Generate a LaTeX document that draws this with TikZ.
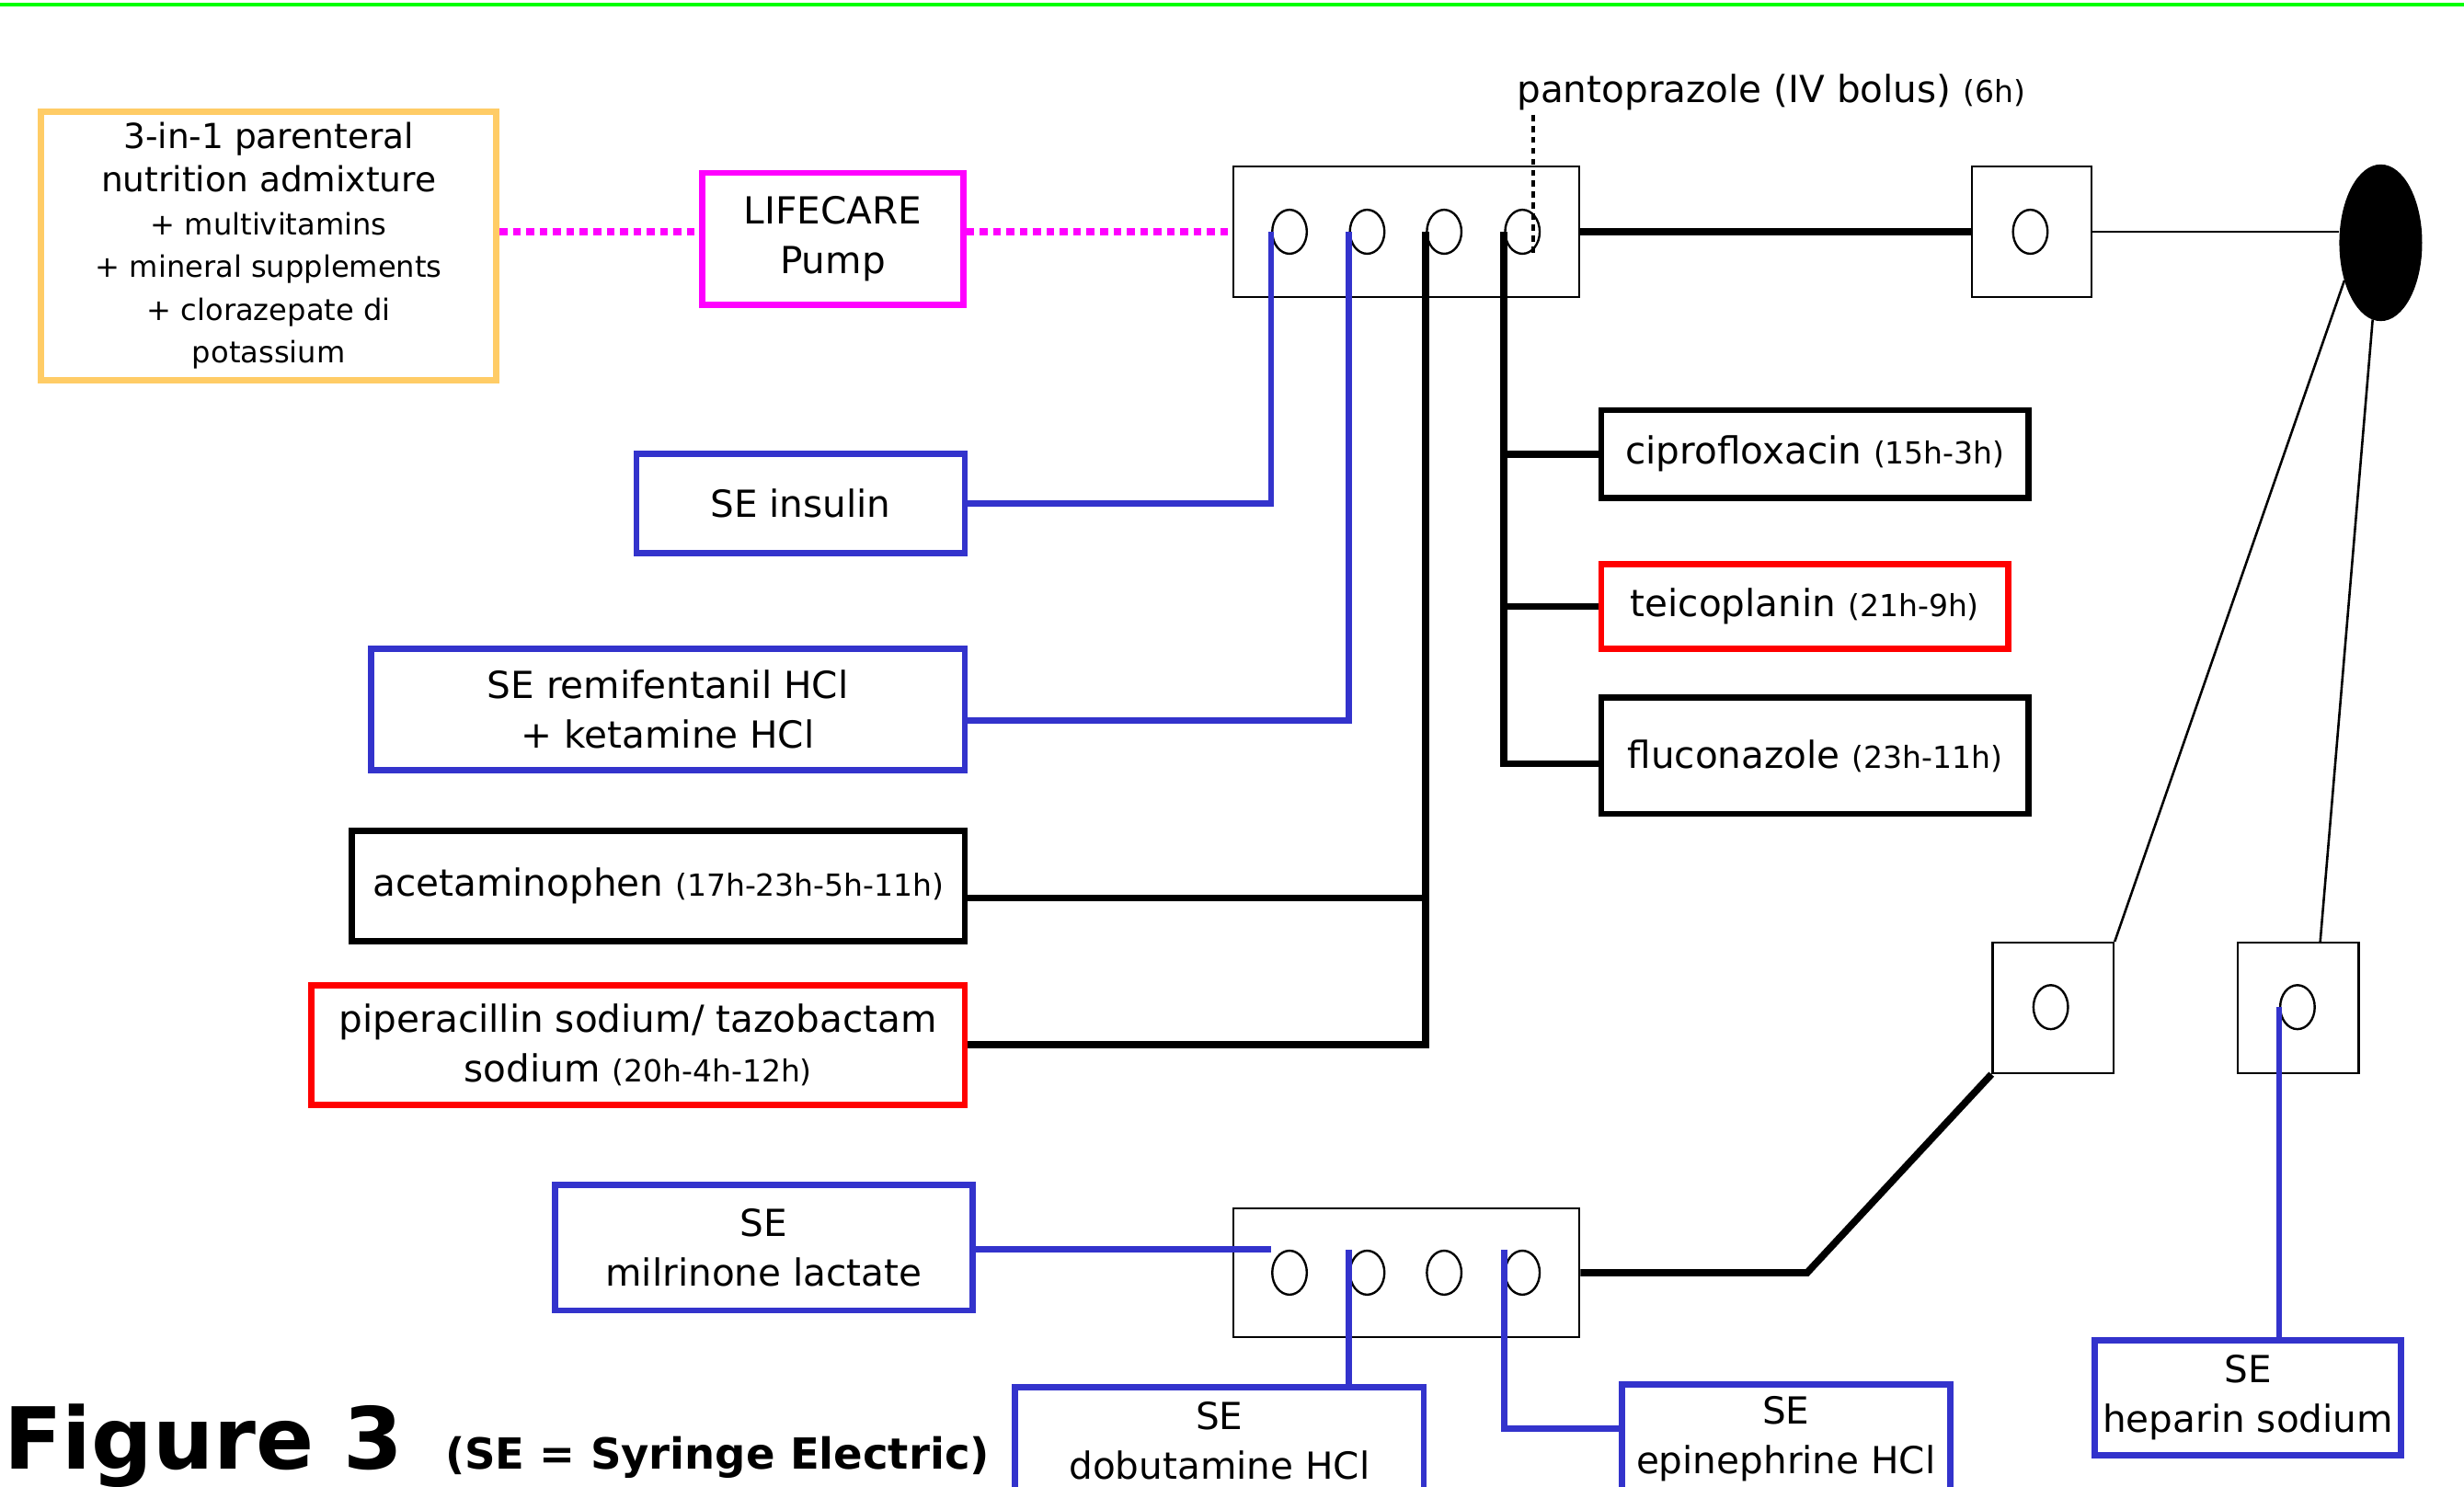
\documentclass[tikz,border=0pt]{standalone}
\usepackage{fontspec}
\setmainfont{DejaVu Sans}
\usepackage{tikz}
\usetikzlibrary{shapes.geometric}

\definecolor{seblue}{RGB}{51,51,204}
\definecolor{tpnorange}{RGB}{255,204,102}
\definecolor{pumppink}{RGB}{255,0,255}
\definecolor{rulegreen}{RGB}{0,255,0}

\newcommand{\drugfont}{\fontsize{13.5}{18}\selectfont}
\newcommand{\hourfont}{\fontsize{11}{14}\selectfont}
\newcommand{\tpnfont}{\fontsize{10.7}{15.5}\selectfont}
\newcommand{\tpnbig}{\fontsize{12.5}{16}\selectfont}

\begin{document}
\begin{tikzpicture}[
  x=0.2mm, y=-0.2mm,
  drug/.style={draw, line width=0.8mm, align=center, font=\drugfont, inner sep=0pt},
  sebox/.style={drug, draw=seblue},
  redbox/.style={drug, draw=red},
  hub/.style={draw, line width=0.28mm, minimum width=44mm, minimum height=16.6mm},
  portbox/.style={draw, line width=0.28mm, minimum width=15.4mm, minimum height=16.6mm},
  port/.style={draw, ellipse, line width=0.28mm, minimum width=4.4mm,
               minimum height=5.6mm, inner sep=0pt},
  feed/.style={line width=0.9mm},
  seline/.style={line width=0.8mm, seblue},
  pumpline/.style={line width=0.85mm, pumppink, dash pattern=on 1mm off 0.7mm},
  dripline/.style={line width=0.3mm}
]
\useasboundingbox (0,0) rectangle (1568,946);
\fill[white] (0,0) rectangle (1568,946);
\draw[rulegreen, line width=0.4mm] (0,3) -- (1568,3);

% nutrition line
\node[drug, draw=tpnorange, minimum width=58mm, minimum height=34.2mm, font=\tpnfont]
  (tpn) at (171,156.5) {\tpnbig 3-in-1 parenteral\\ \tpnbig nutrition admixture\\
  + multivitamins\\ + mineral supplements\\ + clorazepate di\\ potassium};
\node[drug, draw=pumppink, minimum width=33.2mm, minimum height=16.8mm] (pump) at (530,152) {LIFECARE\\Pump};

% upper manifold
\node[hub] (tman) at (895,147.5) {};
\foreach \i/\x in {1/820.6, 2/870, 3/919, 4/968.8}
  \node[port] (t\i) at (\x,147.5) {};
\node[portbox, minimum width=15.2mm] (tp) at (1293,147.5) {};
\node[port] (tpo) at (1292,147.5) {};
\node[draw, ellipse, fill=black, minimum width=10.4mm, minimum height=19.8mm, inner sep=0pt] (drip) at (1515,154.5) {};

\node[anchor=base west, inner sep=0pt, font=\drugfont] (panto) at (965,65) {pantoprazole (IV bolus) {\hourfont (6h)}};
\coordinate (bolus) at (975.5,73);

\node[sebox, minimum width=41.8mm, minimum height=12.6mm] (insulin) at (509.5,320.5) {SE insulin};
\node[sebox, minimum width=75.6mm, minimum height=15.4mm] (remi) at (425,451.5) {SE remifentanil HCl\\+ ketamine HCl};
\node[drug, minimum width=78mm, minimum height=14mm] (acet) at (419,564) {acetaminophen {\hourfont (17h-23h-5h-11h)}};
\node[redbox, minimum width=83.2mm, minimum height=15.2mm] (pip) at (406,665) {piperacillin sodium/ tazobactam\\sodium {\hourfont (20h-4h-12h)}};

\node[drug, minimum width=54.4mm, minimum height=11.2mm] (cipro) at (1155,289) {ciprofloxacin {\hourfont (15h-3h)}};
\node[redbox, minimum width=51.8mm, minimum height=10.8mm] (teico) at (1148.5,386) {teicoplanin {\hourfont (21h-9h)}};
\node[drug, minimum width=54.4mm, minimum height=14.8mm] (fluco) at (1155,481) {fluconazole {\hourfont (23h-11h)}};

% lower ports
\node[portbox] (lp) at (1306.5,641.5) {};
\node[port] (lpo) at (1305,641) {};
\node[portbox] (rp) at (1462.5,641.5) {};
\node[port] (rpo) at (1462,641) {};

% lower manifold
\node[hub, minimum height=16.4mm] (bman) at (895,810) {};
\foreach \i/\x in {1/820.6, 2/870, 3/919, 4/968.8}
  \node[port] (b\i) at (\x,810) {};
\coordinate (kink) at (1150,810);

\node[sebox, minimum width=53.2mm, minimum height=16mm] (milr) at (486,794) {SE\\milrinone lactate};
\node[sebox, minimum width=52mm, minimum height=13.6mm] (dobu) at (776,917) {SE\\dobutamine HCl};
\node[sebox, minimum width=41.8mm, minimum height=14mm] (epi) at (1136.5,916) {SE\\epinephrine HCl};
\node[sebox, minimum width=39mm, minimum height=14.6mm] (hep) at (1430.5,889.5) {SE\\heparin sodium};

\node[anchor=base west, inner sep=0pt, font=\fontsize{31}{38}\selectfont\bfseries] (fig) at (2,935) {Figure 3};
\node[anchor=base west, inner sep=0pt, font=\fontsize{15.5}{18}\selectfont\bfseries] (key) at (283,935) {(SE = Syringe Electric)};

% connections
\draw[pumpline] (tpn.east |- tman.west) -- (pump.west |- tman.west);
\draw[pumpline] (pump.east |- tman.west) -- (tman.west);
\draw[line width=0.45mm, dash pattern=on 0.8mm off 0.6mm] (bolus) -- (bolus |- t4.south);

\draw[feed] (tman.east) -- (tp.west);
\draw[dripline] (tp.east) -- (tp.east -| drip.west);
\draw[dripline] (lp.north east) -- (drip.226);
\draw[dripline] ([xshift=2.8mm]rp.north) -- (drip.264);

\draw[seline] (t1.west) |- (insulin.east);
\draw[seline] (t2.west) |- ([yshift=-1.4mm]remi.east);
\draw[feed] ([yshift=-1.5mm]acet.east) -| (t3.west);
\draw[feed] (pip.east) -| (t3.west);
\draw[feed] (t4.west) |- (cipro.west);
\draw[feed] (t4.west) |- (teico.west);
\draw[feed] (t4.west) |- ([yshift=-1mm]fluco.west);

\draw[seline] (milr.east |- b1.north) -- (b1.west |- b1.north);
\draw[seline] (b2.west |- b2.north) -- (b2.west |- dobu.north);
\draw[seline] (b4.west |- b4.north) |- ([yshift=1.4mm]epi.west);
\draw[seline] (rpo.west) -- (rpo.west |- hep.north);
\draw[feed] (bman.east) -- (kink) -- (lp.south west);
\end{tikzpicture}
\end{document}
